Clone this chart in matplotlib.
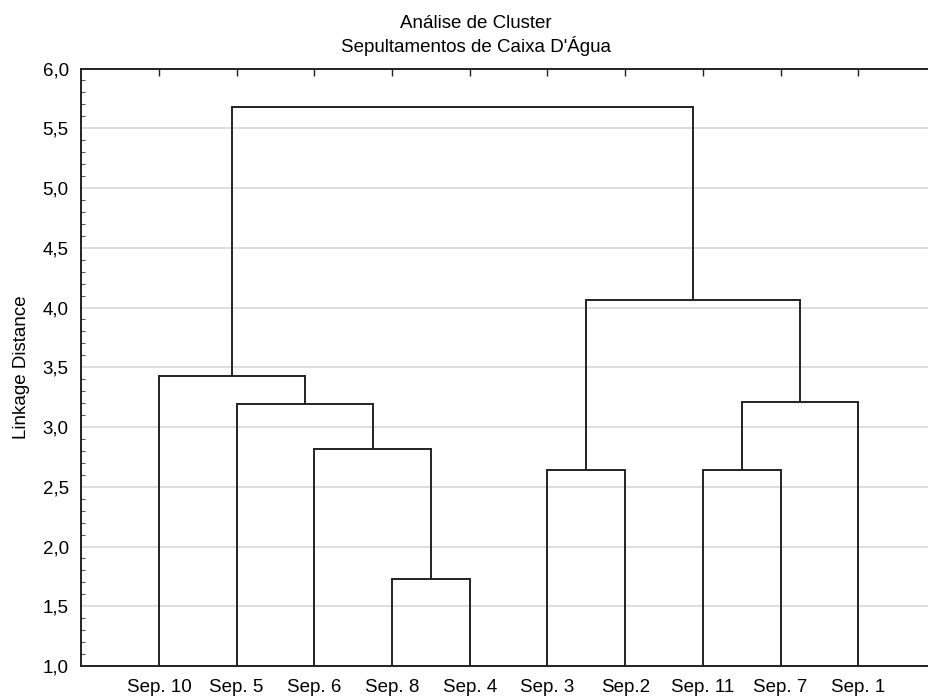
#!/usr/bin/env python3
"""
Dendrogram: cluster analysis of the Caixa D'Agua burials.
"""
import matplotlib
matplotlib.use('Agg')
import matplotlib.pyplot as plt
from matplotlib.ticker import FuncFormatter, MultipleLocator

# leaf order along the x axis
leaves = ['Sep. 10', 'Sep. 5', 'Sep. 6', 'Sep. 8', 'Sep. 4',
	'Sep. 3', 'Sep.2', 'Sep. 11', 'Sep. 7', 'Sep. 1']
# merges: (left child, right child, linkage distance)
# children < 10 are leaf indices, >= 10 refer to earlier merges (10 + k)
merge_left = [3, 2, 1, 0, 5, 7, 15, 14, 13]
merge_right = [4, 10, 11, 12, 6, 8, 9, 16, 17]
merge_height = [1.73, 2.82, 3.19, 3.43, 2.64, 2.64, 3.21, 4.06, 5.68]

LINE = '#222222'


def node_position(pos, height, idx):
	if idx < len(leaves):
		return float(idx), 1.0
	return pos[idx], height[idx]


def main():
	plt.rcParams['font.family'] = ['Liberation Sans', 'DejaVu Sans']
	plt.rcParams['font.size'] = 13.5
	fig = plt.figure(figsize=(9.29, 6.98), dpi=100)
	ax = fig.add_axes([0.0875, 0.0458, 0.92, 0.856])

	pos, height = {}, {}
	for k, (a, b, h) in enumerate(zip(merge_left, merge_right, merge_height)):
		xa, ya = node_position(pos, height, a)
		xb, yb = node_position(pos, height, b)
		ax.plot([xa, xa, xb, xb], [ya, h, h, yb], color=LINE, lw=1.4,
			solid_joinstyle='miter', zorder=3)
		pos[len(leaves) + k] = (xa + xb) / 2
		height[len(leaves) + k] = h

	ax.set_xlim(-1, len(leaves))
	ax.set_ylim(1.0, 6.0)
	ax.set_xticks(range(len(leaves)))
	ax.set_xticklabels(leaves)
	ax.tick_params(axis='x', which='both', bottom=False, top=True,
		direction='in', length=5, width=1, color=LINE, pad=9.5)
	ax.yaxis.set_major_locator(MultipleLocator(0.5))
	ax.yaxis.set_minor_locator(MultipleLocator(0.1))
	ax.yaxis.set_major_formatter(FuncFormatter(lambda v, p: ('%.1f' % v).replace('.', ',')))
	ax.tick_params(axis='y', which='major', direction='in', length=0, pad=9)
	ax.tick_params(axis='y', which='minor', direction='in', length=3,
		width=0.8, color='#555555', left=True, right=False)
	ax.grid(axis='y', which='major', color='#d8d8d8', lw=1.2, zorder=0)
	for side in ('left', 'bottom', 'top'):
		ax.spines[side].set_color(LINE)
		ax.spines[side].set_linewidth(1.4)
	ax.spines['right'].set_visible(False)

	ax.set_ylabel('Linkage Distance', labelpad=9)
	fig.text(0.512, 0.9594, 'Análise de Cluster', ha='center', va='baseline')
	fig.text(0.512, 0.9255, "Sepultamentos de Caixa D'Água", ha='center', va='baseline')

	fig.savefig('out.png', dpi=100)


if __name__ == '__main__':
	main()
